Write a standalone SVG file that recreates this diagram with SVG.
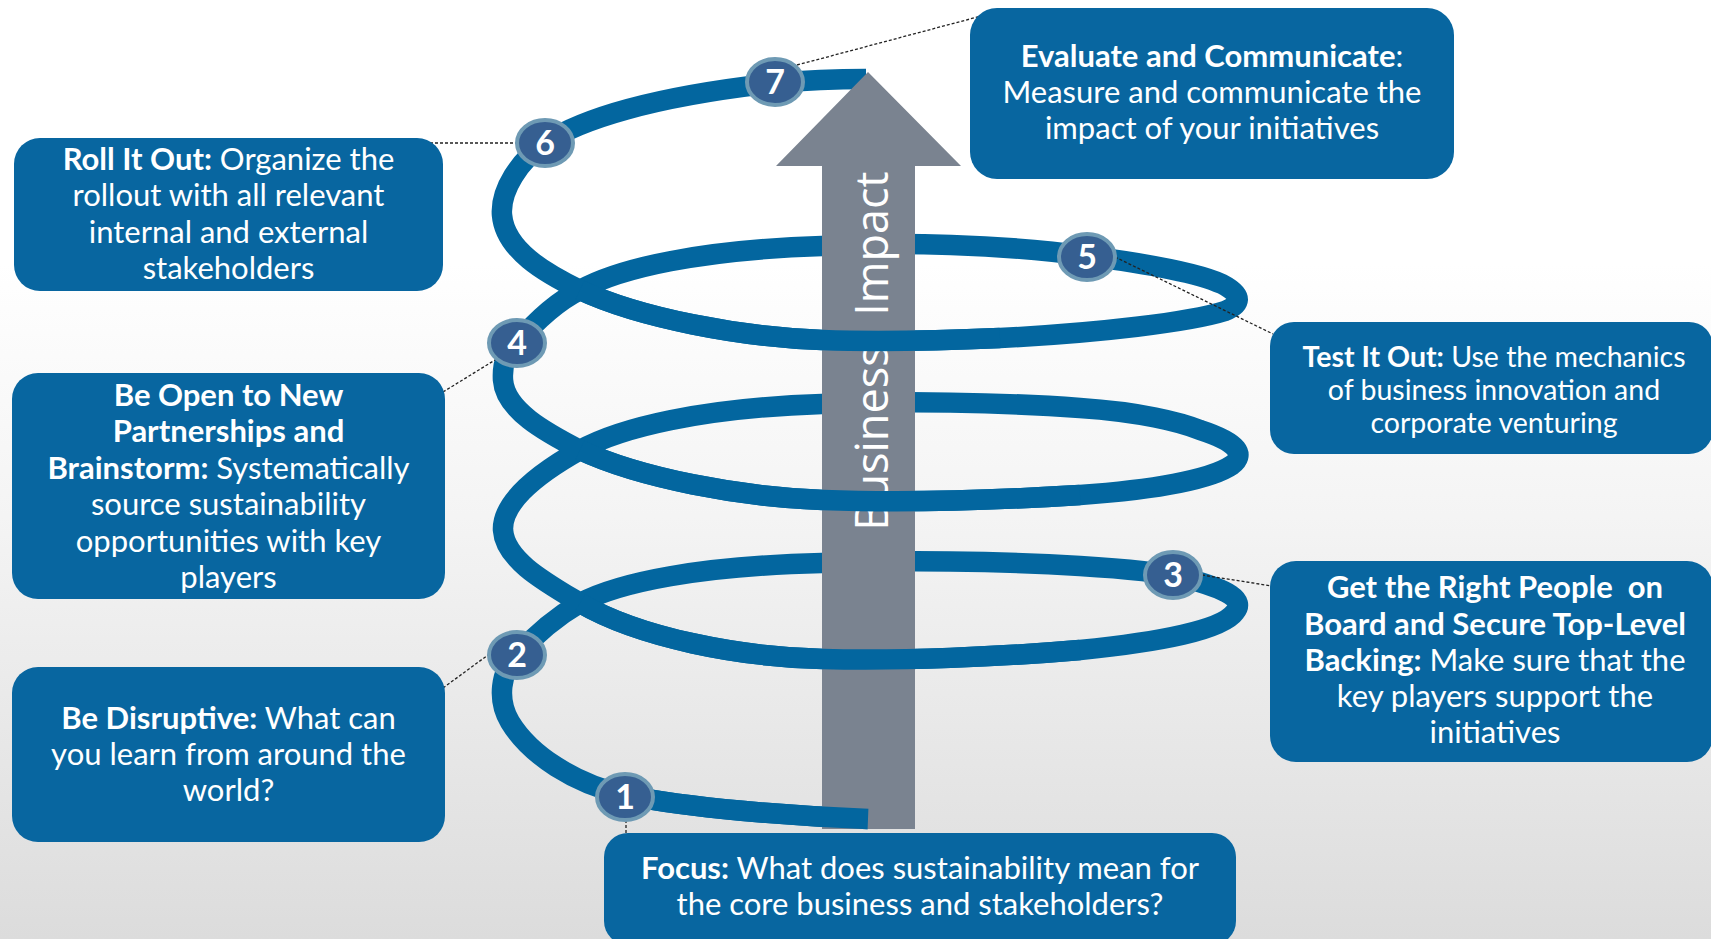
<svg xmlns="http://www.w3.org/2000/svg" width="1711" height="939" viewBox="0 0 1711 939">
<defs>
<linearGradient id="bg" x1="0" y1="0" x2="0" y2="1">
<stop offset="0" stop-color="#ffffff"/>
<stop offset="0.28" stop-color="#ffffff"/>
<stop offset="0.55" stop-color="#f4f4f4"/>
<stop offset="1" stop-color="#dcdcdc"/>
</linearGradient>
<style>
.box{fill:#0866a0;}
.band{fill:none;stroke:#03669f;stroke-width:20.5;stroke-linejoin:round;}
.t{font-family:Lato,'Open Sans',sans-serif;font-size:31px;fill:#fff;text-anchor:middle;}
.ts{font-size:28.5px;}
.b{font-weight:bold;}
.num{fill:#365f91;stroke:#6e9ab4;stroke-width:4;}
.nt{font-family:Lato,'Open Sans',sans-serif;font-size:34px;font-weight:bold;fill:#fff;text-anchor:middle;}
.con{fill:none;stroke:#222;stroke-width:1.3;stroke-dasharray:3 2;}
</style>
</defs>
<rect x="0" y="0" width="1711" height="939" fill="url(#bg)"/>

<g id="spiral-back">
<path class="band" d="M 868 819 C 790 816, 690 808, 625 795 C 575 784, 530 755, 510 722 C 497 700, 500 672, 517 655 C 535 635, 556 617, 580 603 C 620 582, 700 566, 822 563 C 900 560, 1000 561, 1080 566 C 1130 569, 1160 572, 1185 578 C 1230 590, 1245 600, 1235 612 C 1222 630, 1160 642, 1080 650 C 1000 657, 900 661, 823 659 C 740 657, 640 638, 580 603 C 545 582, 505 560, 503 530 C 502 505, 530 478, 580 450 C 620 428, 700 408, 822 404 C 900 401, 1000 402, 1080 408 C 1140 412, 1180 422, 1200 430 C 1240 443, 1245 455, 1232 465 C 1210 480, 1150 490, 1080 495 C 1000 500, 900 503, 823 500 C 740 497, 640 478, 580 450 C 545 432, 505 410, 503 380 C 502 362, 507 352, 517 343 C 535 322, 556 302, 580 290 C 620 268, 700 250, 822 246 C 900 242, 1000 244, 1087 256 C 1150 264, 1200 274, 1222 284 C 1245 296, 1240 305, 1225 311 C 1190 322, 1100 333, 1000 338 C 930 341, 880 342, 822 340 C 740 337, 640 318, 580 290 C 545 273, 505 250, 502 215 C 500 190, 520 160, 545 143 C 580 120, 650 97, 775 83 C 820 79, 850 79, 866 79"/>
</g>

<g id="arrow">
<polygon points="822,829 822,166 776,166 868,72 961,166 915,166 915,829" fill="#7a8390"/>
<text transform="translate(888,351) rotate(-90)" text-anchor="middle" font-family="'Open Sans',sans-serif" font-size="45" fill="#fff" word-spacing="18">Business Impact</text>
</g>

<g id="spiral-front">
<path class="band" d="M 868 819 C 790 816, 690 808, 625 795"/>
<path class="band" d="M 1080 650 C 1000 657, 900 661, 823 659 C 740 657, 640 638, 580 603"/>
<path class="band" d="M 1080 495 C 1000 500, 900 503, 823 500 C 740 497, 640 478, 580 450"/>
<path class="band" d="M 1000 338 C 930 341, 880 342, 822 340 C 740 337, 640 318, 580 290"/>
</g>

<g id="connectors">
<line class="con" x1="797" y1="65" x2="985" y2="15"/>
<line class="con" x1="430" y1="143" x2="516" y2="143"/>
<line class="con" x1="443" y1="392" x2="495" y2="360"/>
<line class="con" x1="443" y1="688" x2="488" y2="655"/>
<line class="con" x1="626" y1="820" x2="626" y2="834"/>
<line class="con" x1="1202" y1="575" x2="1272" y2="586"/>
<line class="con" x1="1115" y1="257" x2="1273" y2="334"/>
</g>

<g id="marker-1"><ellipse class="num" cx="625" cy="797" rx="28" ry="23"/><text class="nt" x="625" y="809">1</text></g>
<g id="marker-2"><ellipse class="num" cx="517" cy="655" rx="28" ry="23"/><text class="nt" x="517" y="667">2</text></g>
<g id="marker-3"><ellipse class="num" cx="1173" cy="575" rx="28" ry="23"/><text class="nt" x="1173" y="587">3</text></g>
<g id="marker-4"><ellipse class="num" cx="517" cy="343" rx="28" ry="23"/><text class="nt" x="517" y="355">4</text></g>
<g id="marker-5"><ellipse class="num" cx="1087" cy="257" rx="28" ry="23"/><text class="nt" x="1087" y="269">5</text></g>
<g id="marker-6"><ellipse class="num" cx="545" cy="143" rx="28" ry="23"/><text class="nt" x="545" y="155">6</text></g>
<g id="marker-7"><ellipse class="num" cx="775" cy="82" rx="28" ry="23"/><text class="nt" x="775" y="94">7</text></g>

<g id="roll-it-out">
<rect class="box" x="14" y="138" width="429" height="153" rx="26"/>
<text class="t" x="228.5" y="170"><tspan class="b">Roll It Out:</tspan> Organize the</text>
<text class="t" x="228.5" y="206">rollout with all relevant</text>
<text class="t" x="228.5" y="243">internal and external</text>
<text class="t" x="228.5" y="279">stakeholders</text>
</g>

<g id="be-open">
<rect class="box" x="12" y="373" width="433" height="226" rx="26"/>
<text class="t b" x="228.5" y="406">Be Open to New</text>
<text class="t b" x="228.5" y="442">Partnerships and</text>
<text class="t" x="228.5" y="479"><tspan class="b">Brainstorm:</tspan> Systematically</text>
<text class="t" x="228.5" y="515">source sustainability</text>
<text class="t" x="228.5" y="552">opportunities with key</text>
<text class="t" x="228.5" y="588">players</text>
</g>

<g id="be-disruptive">
<rect class="box" x="12" y="667" width="433" height="175" rx="26"/>
<text class="t" x="228.5" y="729"><tspan class="b">Be Disruptive:</tspan> What can</text>
<text class="t" x="228.5" y="765">you learn from around the</text>
<text class="t" x="228.5" y="801">world?</text>
</g>

<g id="focus">
<rect class="box" x="604" y="833" width="632" height="112" rx="24"/>
<text class="t" x="920" y="879"><tspan class="b">Focus:</tspan> What does sustainability mean for</text>
<text class="t" x="920" y="915">the core business and stakeholders?</text>
</g>

<g id="evaluate">
<rect class="box" x="970" y="8" width="484" height="171" rx="27"/>
<text class="t" x="1212" y="67"><tspan class="b">Evaluate and Communicate</tspan>:</text>
<text class="t" x="1212" y="103">Measure and communicate the</text>
<text class="t" x="1212" y="139">impact of your initiatives</text>
</g>

<g id="test-it-out">
<rect class="box" x="1270" y="322" width="443" height="132" rx="24"/>
<text class="t ts" x="1494" y="367"><tspan class="b">Test It Out:</tspan> Use the mechanics</text>
<text class="t ts" x="1494" y="400">of business innovation and</text>
<text class="t ts" x="1494" y="433">corporate venturing</text>
</g>

<g id="right-people">
<rect class="box" x="1270" y="561" width="443" height="201" rx="26"/>
<text class="t b" x="1495" y="598" xml:space="preserve" style="white-space:pre">Get the Right People  on</text>
<text class="t b" x="1495" y="635">Board and Secure Top-Level</text>
<text class="t" x="1495" y="671"><tspan class="b">Backing:</tspan> Make sure that the</text>
<text class="t" x="1495" y="707">key players support the</text>
<text class="t" x="1495" y="743">initiatives</text>
</g>
</svg>
